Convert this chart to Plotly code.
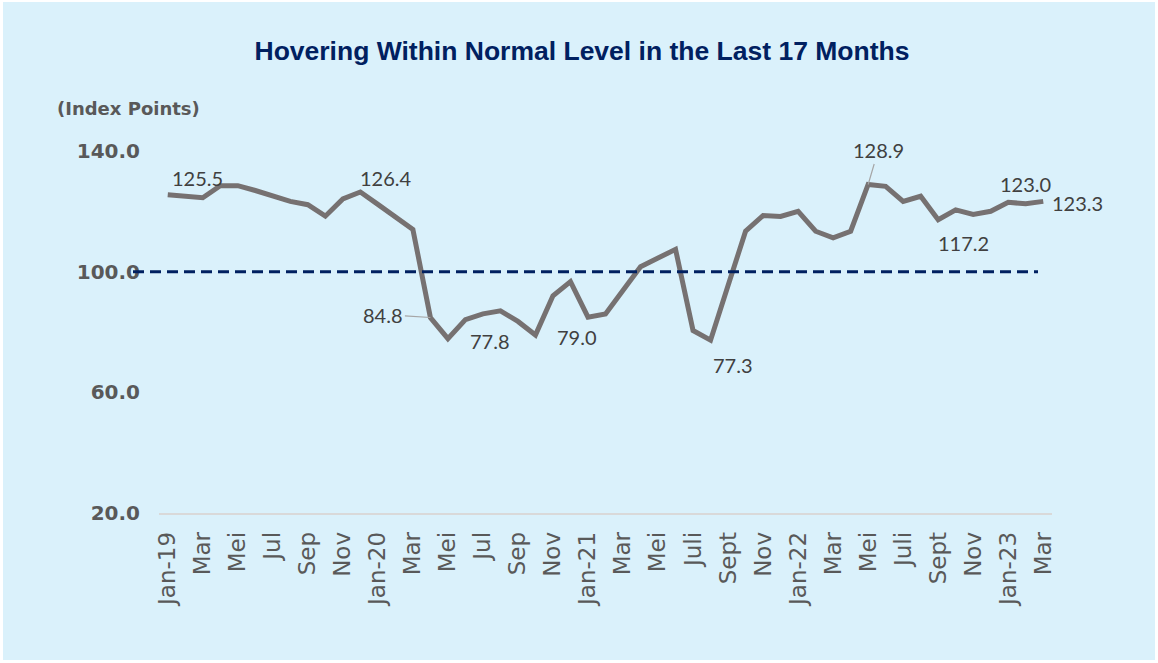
import plotly.graph_objects as go

# ---- data ----
months = [
    "Jan-19", "Feb-19", "Mar-19", "Apr-19", "May-19", "Jun-19", "Jul-19", "Aug-19", "Sep-19", "Oct-19", "Nov-19", "Dec-19",
    "Jan-20", "Feb-20", "Mar-20", "Apr-20", "May-20", "Jun-20", "Jul-20", "Aug-20", "Sep-20", "Oct-20", "Nov-20", "Dec-20",
    "Jan-21", "Feb-21", "Mar-21", "Apr-21", "May-21", "Jun-21", "Jul-21", "Aug-21", "Sep-21", "Oct-21", "Nov-21", "Dec-21",
    "Jan-22", "Feb-22", "Mar-22", "Apr-22", "May-22", "Jun-22", "Jul-22", "Aug-22", "Sep-22", "Oct-22", "Nov-22", "Dec-22",
    "Jan-23", "Feb-23", "Mar-23",
]
index_values = [
    125.5, 125.0, 124.5, 128.5, 128.5, 126.9, 125.1, 123.3, 122.2, 118.4, 124.1, 126.4,
    122.3, 118.2, 114.0, 84.8, 77.8, 84.1, 86.0, 87.0, 83.5, 79.0, 92.0, 96.7,
    84.9, 86.0, 94.0, 101.6, 104.5, 107.4, 80.5, 77.3, 95.4, 113.4, 118.6, 118.3,
    120.0, 113.4, 111.2, 113.4, 128.9, 128.3, 123.3, 125.0, 117.2, 120.5, 119.0, 120.0,
    123.0, 122.5, 123.3,
]
tick_labels = [
    "Jan-19", "Mar", "Mei", "Jul", "Sep", "Nov",
    "Jan-20", "Mar", "Mei", "Jul", "Sep", "Nov",
    "Jan-21", "Mar", "Mei", "Juli", "Sept", "Nov",
    "Jan-22", "Mar", "Mei", "Juli", "Sept", "Nov",
    "Jan-23", "Mar",
]
y_ticks = [20, 60, 100, 140]
normal_level = 100

# labelled points: (month, dx, dy, leader)
labelled = [
    ("Jan-19", 30, 17, False),
    ("Dec-19", 26, 14, False),
    ("Apr-20", -47, -3, True),
    ("May-20", 42, -2, False),
    ("Oct-20", 42, -2, False),
    ("Aug-21", 22, -25, False),
    ("May-22", 10, -34, True),
    ("Sep-22", 25, -23, False),
    ("Jan-23", 17, 18, False),
    ("Mar-23", 34, -2, False),
]

x_idx = list(range(len(months)))
tick_pos = x_idx[::2]

W, H = 1158, 663
ML, MR, MT, MB = 159, 106, 151, 150
PW, PH = W - ML - MR, H - MT - MB

def px_to_paper_x(px):
    return (px - ML) / PW

def px_to_paper_y(py):
    return (H - MB - py) / PH

BG = "#DAF1FB"
NAVY = "#002060"
GREY_TXT = "#595959"
LABEL_FONT = dict(family="Lato", size=20, color="#404040")

fig = go.Figure()
fig.add_trace(go.Scatter(
    x=x_idx, y=index_values, mode="lines",
    line=dict(color="#767171", width=5),
    hoverinfo="skip", showlegend=False,
))

annotations = []
for m, dx, dy, leader in labelled:
    i = months.index(m)
    v = index_values[i]
    if leader:
        annotations.append(dict(
            x=i, y=v, xref="x", yref="y", text=f"{v:.1f}",
            showarrow=True, ax=dx, ay=dy, arrowhead=0, arrowwidth=1.2,
            arrowcolor="#A6A6A6", standoff=0, font=LABEL_FONT,
        ))
    else:
        annotations.append(dict(
            x=i, y=v, xref="x", yref="y", text=f"{v:.1f}",
            showarrow=False, xshift=dx, yshift=dy, font=LABEL_FONT,
        ))

annotations.append(dict(
    x=px_to_paper_x(55), y=px_to_paper_y(109), xref="paper", yref="paper",
    xanchor="left", yanchor="middle", showarrow=False,
    text="(Index Points)",
    font=dict(family="DejaVu Sans", size=18, color=GREY_TXT, weight="bold"),
))

shapes = [
    dict(type="rect", xref="paper", yref="paper", layer="below",
         x0=px_to_paper_x(3), x1=px_to_paper_x(W - 3),
         y0=px_to_paper_y(H - 3), y1=px_to_paper_y(2),
         fillcolor=BG, line=dict(width=0)),
    dict(type="line", xref="paper", yref="y",
         x0=px_to_paper_x(133), x1=px_to_paper_x(1038),
         y0=normal_level, y1=normal_level,
         line=dict(color=NAVY, width=3, dash="11px,6px")),
]

fig.update_layout(
    width=W, height=H,
    margin=dict(l=ML, r=MR, t=MT, b=MB),
    paper_bgcolor="white",
    plot_bgcolor="rgba(0,0,0,0)",
    title=dict(
        text="<b>Hovering Within Normal Level in the Last 17 Months</b>",
        x=582 / W, xanchor="center", xref="container",
        y=1 - 51 / H, yanchor="middle", yref="container",
        font=dict(family="Liberation Sans", size=26.5, color=NAVY),
    ),
    xaxis=dict(
        range=[-0.5, len(months) - 0.5],
        tickmode="array", tickvals=tick_pos, ticktext=tick_labels,
        tickangle=-90, ticks="", showgrid=False, zeroline=False,
        showline=True, linecolor="#D9D9D9", linewidth=1.5,
        tickfont=dict(family="DejaVu Sans", size=23, color=GREY_TXT),
        ticklabelstandoff=8,
    ),
    yaxis=dict(
        range=[20, 140], tickmode="array", tickvals=y_ticks,
        ticktext=[f"{t:.1f}" for t in y_ticks],
        showgrid=False, zeroline=False, showline=False, ticks="",
        tickfont=dict(family="DejaVu Sans", size=20, color=GREY_TXT, weight="bold"),
        ticklabelstandoff=18,
    ),
    annotations=annotations,
    shapes=shapes,
)

fig.write_html(
    "out.html",
    config={"displayModeBar": False},
    post_script="document.body.style.margin='0px';document.body.style.padding='0px';",
)
